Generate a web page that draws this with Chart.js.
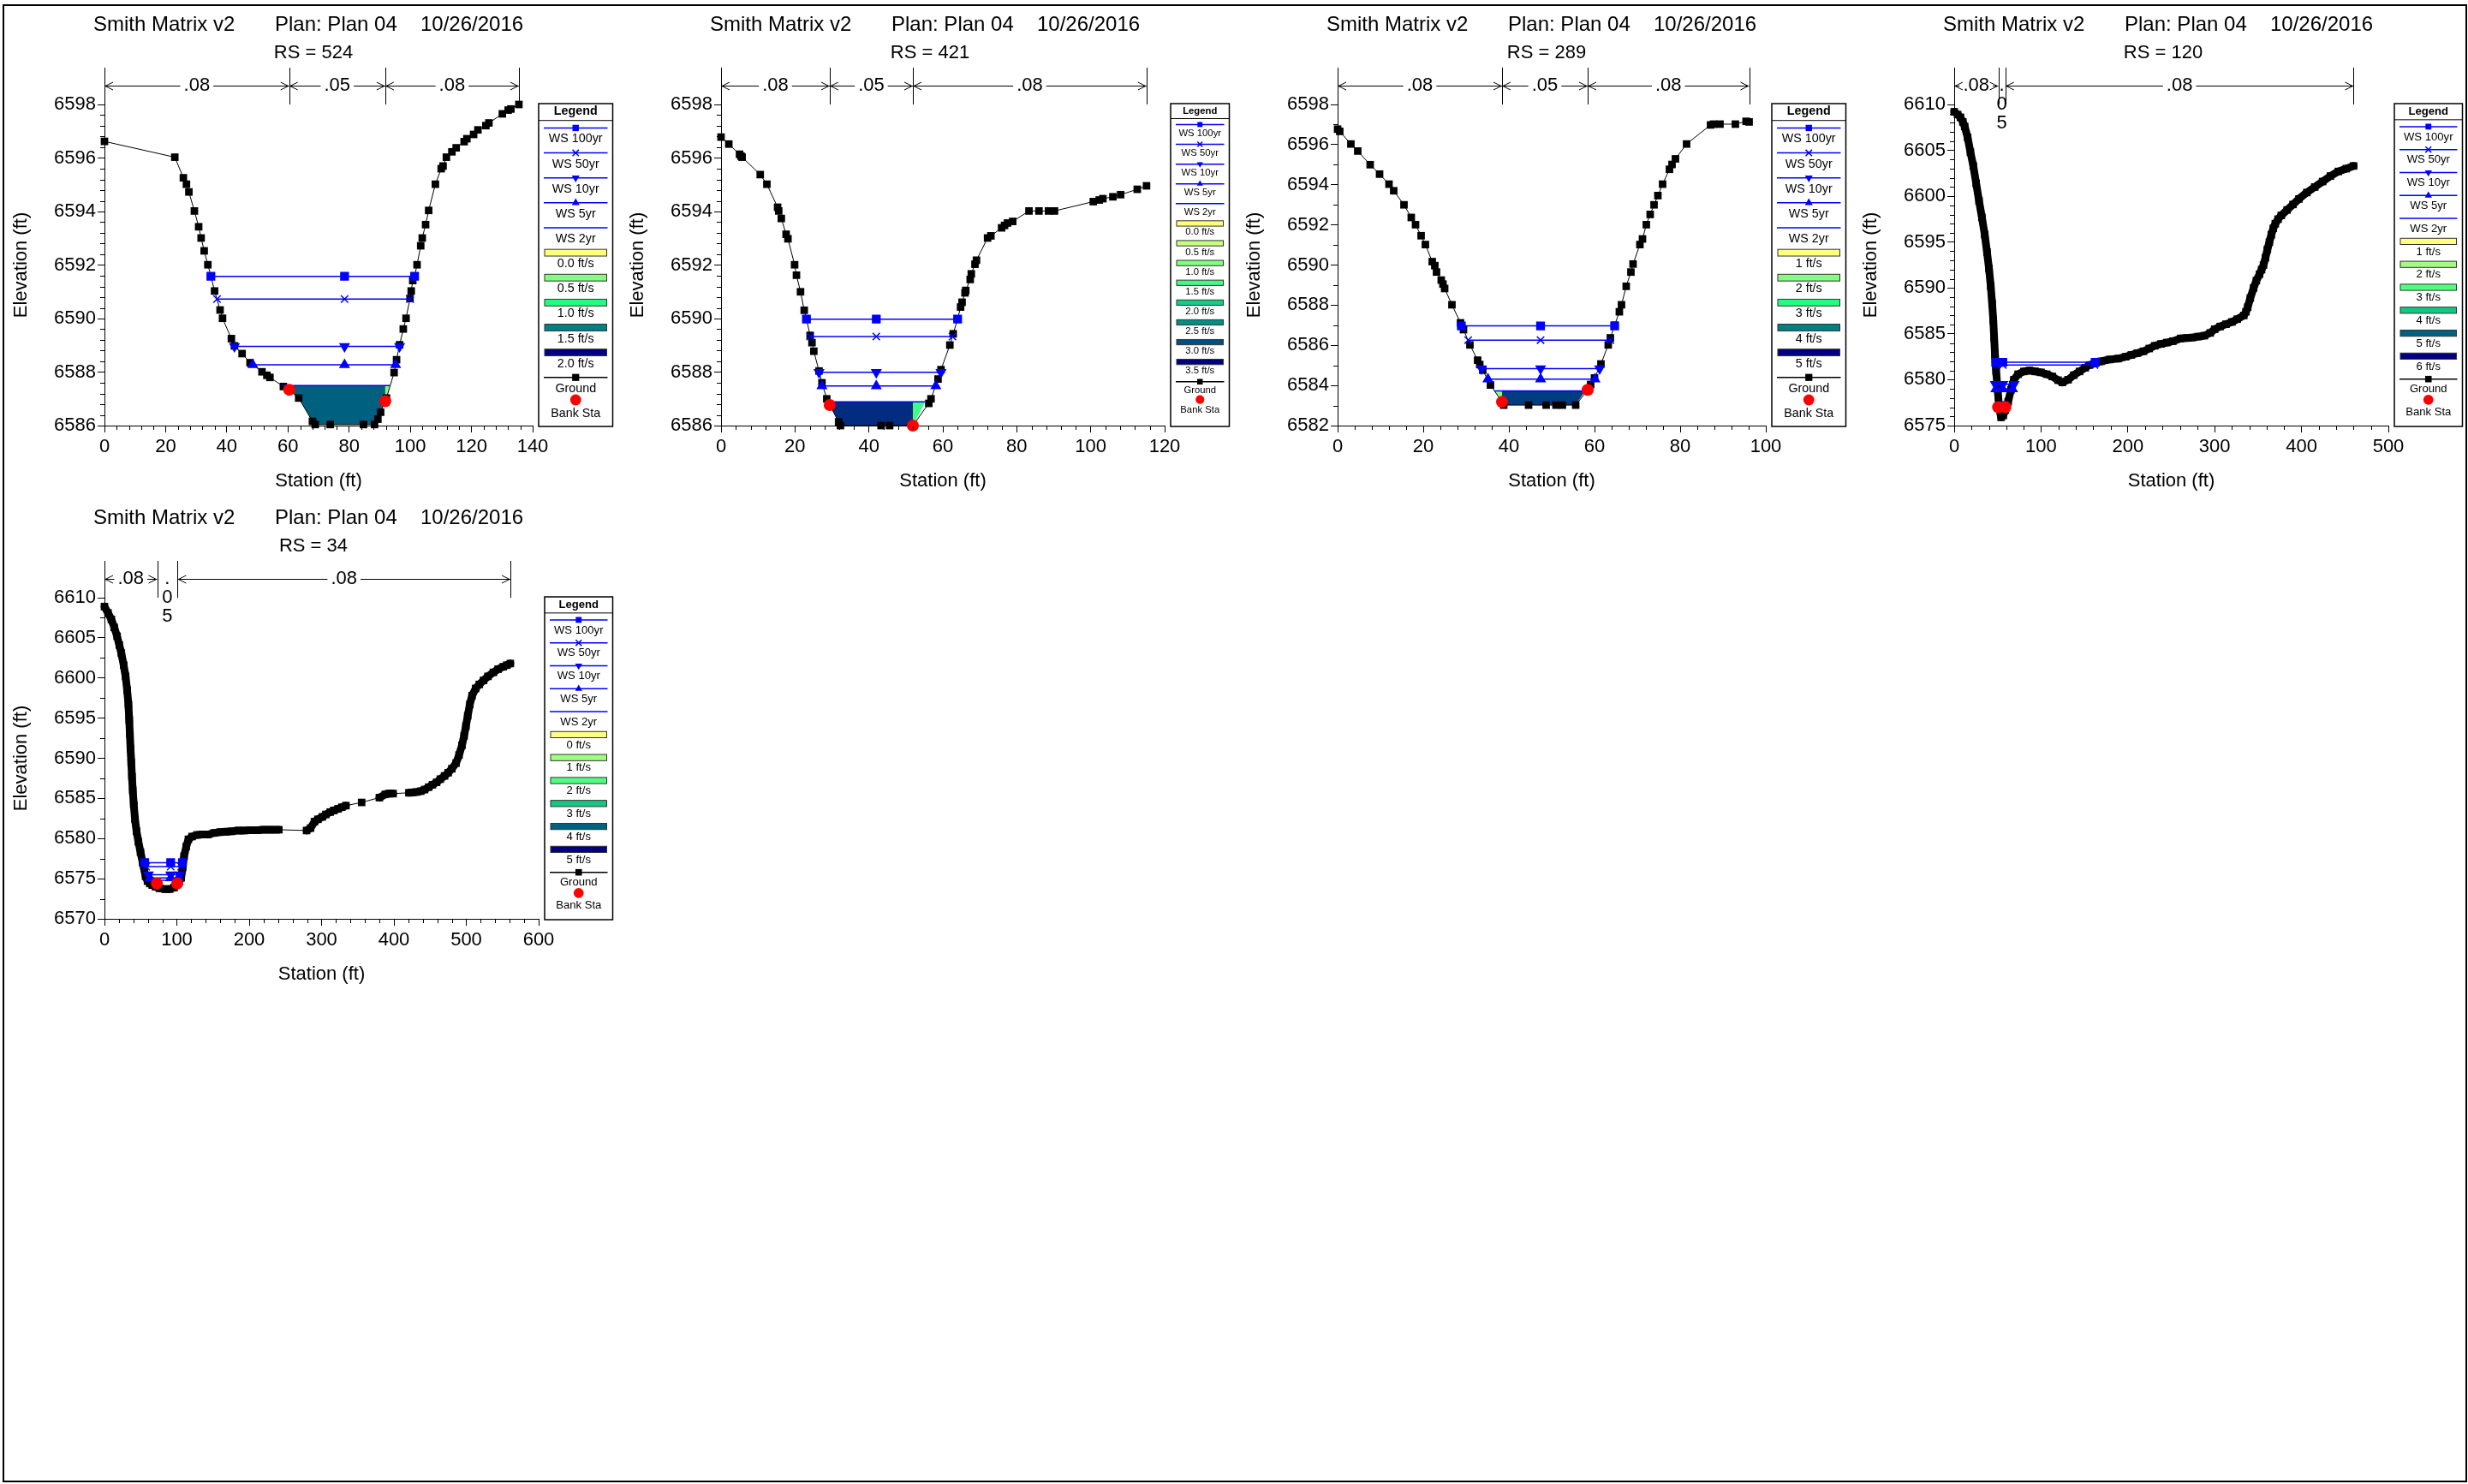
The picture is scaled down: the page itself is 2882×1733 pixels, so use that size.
<!DOCTYPE html>
<html>
<head>
<meta charset="utf-8">
<title>Smith Matrix v2 - Plan 04 cross sections</title>
<script src="https://cdn.jsdelivr.net/npm/chart.js@4"></script>
<style>
  html, body { margin: 0; padding: 0; background: #fff; }
  body { width: 2882px; height: 1733px; position: relative; overflow: hidden; }
  #frame { position: absolute; left: 3px; top: 5px; width: 2874px; height: 1722px; border: 2px solid #000; }
  canvas { position: absolute; }
</style>
</head>
<body>
<div id="frame"></div>
<canvas id="xs524" width="720" height="575" style="left:0px;top:0px"></canvas>
<canvas id="xs421" width="720" height="575" style="left:720px;top:0px"></canvas>
<canvas id="xs289" width="720" height="575" style="left:1440px;top:0px"></canvas>
<canvas id="xs120" width="720" height="575" style="left:2160px;top:0px"></canvas>
<canvas id="xs34" width="720" height="575" style="left:0px;top:576px"></canvas>
<script>
const FONT = '"Liberation Sans", Arial, sans-serif'
Chart.defaults.font.family = FONT
Chart.defaults.color = "#000"

const projectTitle = ["Smith Matrix v2", "Plan: Plan 04", "10/26/2016"]
const wsNames = ["WS 100yr", "WS 50yr", "WS 10yr", "WS 5yr", "WS 2yr"]

// RS = 524
const sta524 = [0, 23.0, 25.8, 26.8, 27.6, 29.4, 30.8, 31.6, 32.6, 33.8, 34.8, 36.0, 37.8, 38.6, 41.5, 42.5, 45.0, 47.6, 51.5, 53.1, 54.1, 58.5, 60.4, 63.5, 68.0, 68.9, 73.8, 84.7, 88.3, 89.4, 90.3, 91.8, 92.2, 94.7, 95.5, 96.5, 97.7, 98.6, 99.9, 100.3, 100.8, 101.4, 102.2, 103.4, 103.9, 105.0, 106.0, 108.2, 110.1, 110.7, 111.8, 113.6, 115.0, 117.6, 118.5, 120.7, 122.1, 124.7, 125.7, 130.1, 132.0, 132.9, 135.5]
const elev524 = [6596.62, 6596.03, 6595.26, 6595.02, 6594.73, 6594.02, 6593.43, 6593.01, 6592.53, 6592.01, 6591.58, 6591.03, 6590.32, 6590.01, 6589.25, 6588.98, 6588.69, 6588.35, 6588.01, 6587.88, 6587.80, 6587.46, 6587.34, 6587.03, 6586.16, 6586.04, 6586.04, 6586.04, 6586.04, 6586.24, 6586.50, 6586.91, 6587.03, 6587.98, 6588.46, 6589.02, 6589.61, 6590.01, 6590.75, 6591.03, 6591.42, 6591.58, 6592.01, 6592.72, 6593.01, 6593.51, 6594.04, 6595.02, 6595.60, 6595.70, 6596.03, 6596.23, 6596.38, 6596.61, 6596.72, 6596.88, 6597.05, 6597.21, 6597.31, 6597.65, 6597.79, 6597.83, 6598.0]
const bankSta524 = [60.4, 91.8]
const bankElev524 = [6587.34, 6586.91]
const wsElev524 = [6591.58, 6590.73, 6588.96, 6588.27, 6587.50]
const wsLeft524 = [34.8, 36.8, 42.5, 48.5, 58.1]
const wsRight524 = [101.4, 99.9, 96.5, 95.2, 93.3]
const wsMid524 = 78.5
const nSta524 = [0, 60.4, 91.8, 135.5]
const nVal524 = [".08", ".05", ".08"]
const velLabels524 = ["0.0 ft/s", "0.5 ft/s", "1.0 ft/s", "1.5 ft/s", "2.0 ft/s"]
const velSpans524 = [[58.1, 91.8], [91.8, 93.3]]
const xTicks524 = [0, 20, 40, 60, 80, 100, 120, 140]
const yTicks524 = [6586, 6588, 6590, 6592, 6594, 6596, 6598]

// RS = 421
const sta421 = [0, 2.1, 5.0, 5.4, 5.7, 10.6, 12.4, 15.3, 15.6, 16.3, 17.6, 18.1, 19.9, 20.4, 21.5, 22.5, 23.1, 24.1, 24.6, 25.1, 26.5, 27.3, 28.6, 29.4, 31.8, 32.3, 43.3, 45.6, 51.9, 56.2, 56.8, 58.7, 59.5, 61.9, 62.8, 64.0, 64.8, 65.2, 66.0, 66.2, 67.4, 67.7, 68.7, 69.1, 72.1, 73.0, 75.9, 76.7, 77.5, 78.9, 83.3, 86.0, 88.6, 90.2, 100.7, 102.3, 103.3, 106.0, 108.1, 112.6, 115.1]
const elev421 = [6596.78, 6596.52, 6596.14, 6596.07, 6596.03, 6595.38, 6595.02, 6594.16, 6594.02, 6593.74, 6593.15, 6592.98, 6592.01, 6591.62, 6591.00, 6590.31, 6589.98, 6589.37, 6589.10, 6588.78, 6588.04, 6587.60, 6587.00, 6586.77, 6586.14, 6586.00, 6586.00, 6586.00, 6586.00, 6586.83, 6587.00, 6587.74, 6588.09, 6589.01, 6589.43, 6589.98, 6590.43, 6590.61, 6590.96, 6591.05, 6591.46, 6591.67, 6592.03, 6592.18, 6593.01, 6593.09, 6593.39, 6593.48, 6593.57, 6593.63, 6594.02, 6594.02, 6594.02, 6594.02, 6594.37, 6594.43, 6594.48, 6594.55, 6594.63, 6594.83, 6594.96]
const bankSta421 = [29.4, 51.9]
const bankElev421 = [6586.77, 6586.0]
const wsElev421 = [6589.98, 6589.33, 6587.99, 6587.48, 6586.89]
const wsLeft421 = [23.1, 24.1, 26.5, 27.3, 29.1]
const wsRight421 = [64.0, 62.6, 59.5, 58.1, 55.2]
const wsMid421 = 42.0
const nSta421 = [0, 29.4, 51.9, 115.1]
const nVal421 = [".08", ".05", ".08"]
const velLabels421 = ["0.0 ft/s", "0.5 ft/s", "1.0 ft/s", "1.5 ft/s", "2.0 ft/s", "2.5 ft/s", "3.0 ft/s", "3.5 ft/s"]
const velSpans421 = [[29.1, 51.9], [51.9, 55.2]]
const xTicks421 = [0, 20, 40, 60, 80, 100, 120]
const yTicks421 = [6586, 6588, 6590, 6592, 6594, 6596, 6598]

// RS = 289
const sta289 = [0, 0.5, 3.1, 4.7, 7.6, 9.8, 12.0, 13.1, 15.5, 17.2, 18.2, 19.5, 20.5, 22.1, 22.7, 23.1, 24.2, 24.6, 25.0, 26.7, 28.7, 29.4, 30.9, 32.7, 33.2, 33.9, 35.7, 38.4, 38.8, 44.6, 48.7, 51.0, 52.5, 55.6, 58.4, 59.1, 60.0, 61.5, 63.2, 63.7, 64.7, 65.8, 66.3, 67.4, 68.5, 69.0, 70.6, 71.2, 72.1, 73.0, 73.9, 74.8, 75.9, 77.5, 78.1, 78.9, 81.5, 87.1, 87.8, 89.3, 92.9, 95.4, 96.1]
const elev289 = [6596.77, 6596.66, 6596.03, 6595.68, 6595.00, 6594.53, 6594.03, 6593.70, 6593.00, 6592.37, 6592.01, 6591.46, 6591.02, 6590.17, 6589.97, 6589.65, 6589.25, 6589.05, 6588.83, 6588.02, 6587.12, 6586.78, 6586.02, 6585.26, 6585.04, 6584.76, 6584.02, 6583.18, 6583.02, 6583.02, 6583.02, 6583.02, 6583.02, 6583.02, 6583.78, 6584.05, 6584.37, 6585.07, 6586.02, 6586.37, 6587.00, 6587.67, 6588.02, 6588.94, 6589.65, 6590.05, 6591.02, 6591.30, 6592.01, 6592.52, 6593.00, 6593.46, 6594.03, 6594.77, 6595.01, 6595.29, 6596.03, 6596.98, 6597.02, 6597.02, 6597.02, 6597.16, 6597.13]
const bankSta289 = [38.4, 58.4]
const bankElev289 = [6583.18, 6583.78]
const wsElev289 = [6586.97, 6586.26, 6584.84, 6584.32, 6583.73]
const wsLeft289 = [28.9, 30.5, 33.6, 35.1, 36.6]
const wsRight289 = [64.7, 63.7, 61.2, 60.1, 57.8]
const wsMid289 = 47.4
const nSta289 = [0, 38.4, 58.4, 96.1]
const nVal289 = [".08", ".05", ".08"]
const velLabels289 = ["1 ft/s", "2 ft/s", "3 ft/s", "4 ft/s", "5 ft/s"]
const velSpans289 = [[36.6, 38.4], [38.4, 57.8]]
const xTicks289 = [0, 20, 40, 60, 80, 100]
const yTicks289 = [6582, 6584, 6586, 6588, 6590, 6592, 6594, 6596, 6598]

// RS = 120
const sta120 = [0, 4, 7.2, 10, 12.1, 15.5, 18.7, 22.0, 25.3, 28.6, 31.9, 35.2, 37.8, 40.1, 42.1, 43.7, 45.0, 46.0, 47.0, 48.3, 50.0, 51.6, 54.0, 56.5, 58.9, 62.1, 65.4, 68.7, 73.6, 80.2, 86.8, 93.4, 99.9, 106.5, 113.1, 119.6, 124.6, 131.2, 137.8, 144.3, 150.9, 155.8, 162.4, 168.9, 178.8, 188.7, 197.4, 204, 211.0, 218, 224.6, 231, 238.2, 245, 251.8, 260.9, 268, 274.5, 281, 288.1, 294.9, 300, 306.3, 313, 319.9, 326, 333.5, 336, 338.0, 341, 344.8, 348, 351.6, 354, 356.2, 358.5, 360.7, 363, 365.2, 367.5, 369.8, 373, 376.6, 383.4, 390.2, 397.0, 406.1, 415.2, 424.3, 433.3, 442.4, 451.5, 460]
const elev120 = [6609.2, 6608.9, 6608.6, 6608.1, 6607.6, 6606.4, 6604.8, 6603.3, 6601.4, 6599.5, 6597.7, 6595.8, 6593.9, 6592.1, 6590.2, 6588.3, 6586.5, 6584.6, 6582.7, 6580.9, 6579.0, 6577.1, 6575.9, 6576.1, 6576.7, 6577.6, 6578.9, 6580.0, 6580.6, 6580.9, 6581.0, 6580.9, 6580.8, 6580.6, 6580.35, 6579.95, 6579.7, 6580.0, 6580.5, 6580.9, 6581.3, 6581.6, 6581.8, 6582.0, 6582.2, 6582.3, 6582.5, 6582.7, 6582.9, 6583.1, 6583.4, 6583.7, 6583.9, 6584.05, 6584.2, 6584.5, 6584.55, 6584.6, 6584.7, 6584.8, 6585.1, 6585.5, 6585.8, 6586.05, 6586.3, 6586.6, 6587.0, 6587.4, 6587.9, 6588.9, 6590.0, 6590.8, 6591.5, 6592.0, 6592.5, 6593.3, 6594.2, 6595.0, 6595.8, 6596.5, 6597.0, 6597.5, 6597.9, 6598.5, 6599.1, 6599.7, 6600.4, 6601.0, 6601.6, 6602.2, 6602.7, 6603.0, 6603.3]
const bankSta120 = [50.6, 59.0]
const bankElev120 = [6577.0, 6577.0]
const wsElev120 = [6581.9, 6581.6, 6579.5, 6579.0, 6577.6]
const wsLeft120 = [47.8, 48.0, 47.4, 48.0, 50.8]
const wsRight120 = [162.4, 161.5, 69.0, 67.2, 62.5]
const wsMid120 = 56.0
const nSta120 = [0, 50.8, 59.0, 460]
const nVal120 = [".08", ".05", ".08"]
const velLabels120 = ["1 ft/s", "2 ft/s", "3 ft/s", "4 ft/s", "5 ft/s", "6 ft/s"]
const velSpans120 = []
const xTicks120 = [0, 100, 200, 300, 400, 500]
const yTicks120 = [6575, 6580, 6585, 6590, 6595, 6600, 6605, 6610]

// RS = 34
const sta34 = [0, 4.9, 9.5, 13.5, 17.4, 20.5, 23.3, 26.5, 29.2, 31.3, 33.1, 34.2, 35.1, 36.0, 37.0, 38.0, 39.1, 40.5, 42.2, 44.3, 46.9, 49.8, 52.8, 56.8, 59.5, 62.7, 66.0, 70.6, 76.0, 84.0, 90.0, 96.2, 100.5, 103.0, 106.0, 108.0, 110.0, 113.0, 116.0, 121.0, 127.8, 135.0, 143.0, 151.5, 160.0, 168.0, 176.0, 185.0, 193.0, 202.0, 211.0, 220.0, 230.0, 241.0, 279.3, 284.8, 290.2, 295.0, 301.1, 306.0, 312.0, 317.0, 322.8, 328.0, 333.7, 355.4, 379.9, 388.0, 393.0, 398.9, 420.7, 426.0, 431.5, 437.0, 442.4, 448.0, 453.3, 459.0, 464.1, 470.0, 475.0, 480.0, 485.9, 490.0, 494.0, 497.0, 499.5, 502.0, 504.9, 508.0, 513.0, 518.0, 523.9, 530.0, 537.5, 544.0, 551.1, 556.0, 560.9]
const elev34 = [6608.9, 6608.1, 6607.3, 6606.3, 6605.2, 6604.1, 6603.1, 6601.6, 6600.2, 6598.5, 6596.7, 6594.8, 6593.0, 6591.2, 6589.5, 6587.7, 6586.0, 6584.2, 6582.4, 6580.9, 6579.6, 6578.3, 6577.0, 6575.3, 6574.7, 6574.4, 6574.2, 6574.0, 6573.8, 6573.7, 6573.7, 6573.9, 6574.4, 6574.6, 6575.1, 6576.4, 6577.8, 6579.0, 6579.9, 6580.25, 6580.45, 6580.5, 6580.5, 6580.7, 6580.8, 6580.85, 6580.9, 6581.0, 6581.0, 6581.05, 6581.05, 6581.1, 6581.1, 6581.1, 6581.0, 6581.3, 6582.1, 6582.4, 6582.7, 6583.0, 6583.3, 6583.5, 6583.7, 6583.9, 6584.1, 6584.5, 6585.1, 6585.5, 6585.6, 6585.6, 6585.7, 6585.75, 6585.8, 6585.9, 6586.1, 6586.4, 6586.7, 6587.0, 6587.4, 6587.8, 6588.2, 6588.7, 6589.4, 6590.4, 6591.6, 6592.8, 6594.0, 6595.3, 6596.7, 6597.8, 6598.7, 6599.2, 6599.7, 6600.2, 6600.7, 6601.1, 6601.4, 6601.6, 6601.8]
const bankSta34 = [72.5, 100.5]
const bankElev34 = [6574.4, 6574.4]
const wsElev34 = [6577.0, 6576.5, 6575.5, 6575.1, 6574.8]
const wsLeft34 = [55.6, 57.6, 60.7, 62.7, 64.7]
const wsRight34 = [107.7, 106.0, 104.0, 102.0, 100.0]
const wsMid34 = 91.5
const nSta34 = [0, 72.8, 101, 561]
const nVal34 = [".08", ".05", ".08"]
const velLabels34 = ["0 ft/s", "1 ft/s", "2 ft/s", "3 ft/s", "4 ft/s", "5 ft/s"]
const velSpans34 = []
const xTicks34 = [0, 100, 200, 300, 400, 500, 600]
const yTicks34 = [6570, 6575, 6580, 6585, 6590, 6595, 6600, 6605, 6610]

// styles
const BLUE = "#0000ff"
const wsMarker = [
    { style: "rect", r: 6.2, rot: 0 },
    { style: "crossRot", r: 6, rot: 0 },
    { style: "triangle", r: 6, rot: 180 },
    { style: "triangle", r: 6, rot: 0 },
    { style: false, r: 0, rot: 0 },
]
const velColors5 = ["#ffff80", "#80ff80", "#20ff80", "#008080", "#000080"]
const velColors6 = ["#ffff80", "#a0ff80", "#50ff80", "#10c880", "#006080", "#000080"]
const velColors8 = ["#ffff80", "#c8ff80", "#80ff80", "#40ff80", "#10d080", "#008f80", "#00507f", "#000080"]

function toPoints(xs, ys) {
    return xs.map((x, i) => ({ x: x, y: ys[i] }))
}

function fillPolygon(sta, elev, ws, a, b) {
    const pts = [{ x: a, y: ws }, { x: b, y: ws }]
    for (let i = sta.length - 1; i >= 0; i--) {
        if (sta[i] >= a && sta[i] <= b) pts.push({ x: sta[i], y: elev[i] })
    }
    return pts
}

function drawMark(ctx, style, rot, x, y, r) {
    ctx.beginPath()
    if (style === "rect") {
        const h = r * Math.SQRT1_2
        ctx.rect(x - h, y - h, 2 * h, 2 * h)
        ctx.fill()
    } else if (style === "crossRot") {
        const h = r * Math.SQRT1_2
        ctx.moveTo(x - h, y - h); ctx.lineTo(x + h, y + h)
        ctx.moveTo(x - h, y + h); ctx.lineTo(x + h, y - h)
        ctx.stroke()
    } else if (style === "triangle") {
        const d = rot ? -1 : 1
        ctx.moveTo(x, y - d * r)
        ctx.lineTo(x - r * 0.866, y + d * r / 2)
        ctx.lineTo(x + r * 0.866, y + d * r / 2)
        ctx.closePath()
        ctx.fill()
    } else if (style === "circle") {
        ctx.arc(x, y, r, 0, Math.PI * 2)
        ctx.fill()
    }
}

function makeDecor(s) {
    return {
        id: "decor" + s.rs,
        afterDraw(chart) {
            const ctx = chart.ctx
            const xs = chart.scales.x
            const ys = chart.scales.y
            const a = chart.chartArea
            ctx.save()
            ctx.fillStyle = "#000"
            ctx.strokeStyle = "#000"
            ctx.lineWidth = 1
            ctx.textBaseline = "middle"

            // header
            ctx.font = "24px " + FONT
            ctx.textAlign = "left"
            ctx.fillText(projectTitle[0], 109, 29)
            ctx.fillText(projectTitle[1], 321, 29)
            ctx.fillText(projectTitle[2], 491, 29)
            ctx.font = "22px " + FONT
            ctx.textAlign = "center"
            ctx.fillText("RS = " + s.rs, 366, 62)

            // minor ticks
            ctx.beginPath()
            const xa = s.xTicks[0], xb = s.xTicks[s.xTicks.length - 1]
            for (let i = 0; xa + i * s.xMinor <= xb + 1e-9; i++) {
                const v = xa + i * s.xMinor
                if (s.xTicks.some(t => Math.abs(t - v) < 1e-6)) continue
                const px = Math.round(xs.getPixelForValue(v)) + 0.5
                ctx.moveTo(px, a.bottom)
                ctx.lineTo(px, a.bottom + 5)
            }
            const ya = s.yTicks[0], yb = s.yTicks[s.yTicks.length - 1]
            for (let i = 0; ya + i * s.yMinor <= yb + 1e-9; i++) {
                const v = ya + i * s.yMinor
                if (s.yTicks.some(t => Math.abs(t - v) < 1e-6)) continue
                const py = Math.round(ys.getPixelForValue(v)) + 0.5
                ctx.moveTo(a.left, py)
                ctx.lineTo(a.left - 5, py)
            }
            ctx.stroke()

            // Manning's n
            ctx.beginPath()
            s.nSta.forEach(v => {
                const px = Math.round(xs.getPixelForValue(v)) + 0.5
                ctx.moveTo(px, 79)
                ctx.lineTo(px, a.top)
            })
            ctx.stroke()
            ctx.font = "22px " + FONT
            for (let i = 0; i < s.nVal.length; i++) {
                const l = xs.getPixelForValue(s.nSta[i])
                const r = xs.getPixelForValue(s.nSta[i + 1])
                const mid = (l + r) / 2
                const tw = ctx.measureText(s.nVal[i]).width
                if (r - l >= tw + 6) {
                    ctx.beginPath()
                    const g1 = mid - tw / 2 - 4
                    const g2 = mid + tw / 2 + 4
                    if (g1 > l) { ctx.moveTo(l, 100.5); ctx.lineTo(g1, 100.5) }
                    if (g2 < r) { ctx.moveTo(g2, 100.5); ctx.lineTo(r, 100.5) }
                    ctx.moveTo(l + 10, 96); ctx.lineTo(l + 1, 100.5); ctx.lineTo(l + 10, 105)
                    ctx.moveTo(r - 10, 96); ctx.lineTo(r - 1, 100.5); ctx.lineTo(r - 10, 105)
                    ctx.stroke()
                    ctx.fillText(s.nVal[i], mid, 100)
                } else {
                    s.nVal[i].split("").forEach((ch, k) => ctx.fillText(ch, mid, 100 + k * 22))
                }
            }

            // legend box
            const L = a.right + 7, R = 715.5, T = 121, B = 498
            ctx.fillStyle = "#fff"
            ctx.fillRect(L, T, R - L, B - T)
            ctx.lineWidth = 1.5
            ctx.strokeRect(L, T, R - L, B - T)
            const nItems = 5 + s.velLabels.length + 2
            const sp = 335 / (nItems - 0.5)
            const f = sp * 0.49
            const cx = (L + R) / 2
            ctx.fillStyle = "#000"
            ctx.font = "bold " + f.toFixed(1) + "px " + FONT
            ctx.fillText("Legend", cx, T + 9)
            const sep = T + 9 + 0.75 * f
            ctx.lineWidth = 1
            ctx.beginPath(); ctx.moveTo(L, sep); ctx.lineTo(R, sep); ctx.stroke()
            ctx.font = f.toFixed(1) + "px " + FONT
            let y = sep + 0.3 * sp
            for (let k = 0; k < 5; k++) {
                ctx.strokeStyle = BLUE
                ctx.fillStyle = BLUE
                ctx.lineWidth = 1.5
                ctx.beginPath(); ctx.moveTo(L + 6, y); ctx.lineTo(R - 6, y); ctx.stroke()
                drawMark(ctx, wsMarker[k].style, wsMarker[k].rot, cx, y, sp * 0.18)
                ctx.fillStyle = "#000"
                ctx.fillText(wsNames[k], cx, y + 0.45 * sp)
                y += sp
            }
            for (let k = 0; k < s.velLabels.length; k++) {
                const h = 0.27 * sp
                ctx.fillStyle = s.velColors[k]
                ctx.fillRect(L + 7, y - h / 2, R - L - 14, h)
                ctx.strokeStyle = "#333"
                ctx.lineWidth = 1
                ctx.strokeRect(L + 7, y - h / 2, R - L - 14, h)
                ctx.fillStyle = "#000"
                ctx.fillText(s.velLabels[k], cx, y + 0.45 * sp)
                y += sp
            }
            ctx.strokeStyle = "#000"
            ctx.lineWidth = 1.5
            ctx.beginPath(); ctx.moveTo(L + 6, y); ctx.lineTo(R - 6, y); ctx.stroke()
            ctx.fillStyle = "#000"
            drawMark(ctx, "rect", 0, cx, y, sp * 0.2)
            ctx.fillText("Ground", cx, y + 0.45 * sp)
            y += sp
            ctx.fillStyle = "#ff0000"
            drawMark(ctx, "circle", 0, cx, y - 0.1 * sp, sp * 0.22)
            ctx.fillStyle = "#000"
            ctx.fillText("Bank Sta", cx, y + 0.45 * sp)
            ctx.restore()
        },
    }
}

function makeSection(id, s) {
    const ground = toPoints(s.sta, s.elev)
    const datasets = []

    s.velSpans.forEach((span, i) => {
        datasets.push({
            label: "vel" + i,
            data: fillPolygon(s.sta, s.elev, s.wsElev[4], span[0], span[1]),
            fill: "shape",
            backgroundColor: s.fillColors[i],
            borderColor: "transparent",
            borderWidth: 0,
            pointRadius: 0,
            order: 10,
            clip: false,
        })
    })

    for (let k = 0; k < 5; k++) {
        const pts = [{ x: s.wsLeft[k], y: s.wsElev[k] }]
        if (k < 4) pts.push({ x: s.wsMid, y: s.wsElev[k] })
        pts.push({ x: s.wsRight[k], y: s.wsElev[k] })
        datasets.push({
            label: wsNames[k],
            data: pts,
            borderColor: BLUE,
            backgroundColor: BLUE,
            borderWidth: 1.5,
            pointStyle: wsMarker[k].style,
            pointRadius: wsMarker[k].r,
            pointRotation: wsMarker[k].rot,
            pointBackgroundColor: BLUE,
            pointBorderColor: BLUE,
            pointBorderWidth: 1.5,
            fill: false,
            order: 3,
            clip: false,
        })
    }

    const groundSet = {
        label: "Ground",
        data: ground,
        borderColor: "#000",
        backgroundColor: "#000",
        borderWidth: 1,
        borderJoinStyle: "round",
        borderCapStyle: "round",
        pointStyle: "rect",
        pointRadius: 6.2,
        pointBackgroundColor: "#000",
        pointBorderWidth: 0,
        fill: false,
        order: 4,
        clip: false,
    }
    if (s.dense) {
        groundSet.segment = {
            borderWidth: c => (Math.abs(ground[c.p1DataIndex].x - ground[c.p0DataIndex].x) < 15 ? 9 : 1),
        }
    }
    datasets.push(groundSet)

    datasets.push({
        label: "Bank Sta",
        data: toPoints(s.bankSta, s.bankElev),
        showLine: false,
        pointStyle: "circle",
        pointRadius: 7,
        pointBackgroundColor: "#ff0000",
        pointBorderWidth: 0,
        order: 1,
        clip: false,
    })

    const axisTitle = { size: 22 }
    const config = {
        type: "line",
        data: { datasets: datasets },
        options: {
            responsive: false,
            animation: false,
            layout: { padding: { left: 0, top: 122, right: s.padRight, bottom: 0 } },
            plugins: { legend: { display: false }, tooltip: { enabled: false } },
            scales: {
                x: {
                    type: "linear",
                    min: s.xTicks[0],
                    max: s.xTicks[s.xTicks.length - 1],
                    afterBuildTicks: sc => { sc.ticks = s.xTicks.map(v => ({ value: v })) },
                    afterFit: sc => { sc.height = 78; sc.paddingLeft = 0; sc.paddingRight = 0 },
                    ticks: { autoSkip: false, maxRotation: 0, padding: 4, font: { size: 22 }, callback: v => String(v) },
                    grid: { drawOnChartArea: false, drawTicks: true, tickLength: 8, tickColor: "#000" },
                    border: { display: true, color: "#000", width: 1 },
                    title: { display: true, text: "Station (ft)", font: axisTitle, padding: { top: 0, bottom: 0 } },
                },
                y: {
                    type: "linear",
                    min: s.yTicks[0],
                    max: s.yTicks[s.yTicks.length - 1],
                    afterBuildTicks: sc => { sc.ticks = s.yTicks.map(v => ({ value: v })) },
                    afterFit: sc => { sc.width = 122; sc.paddingTop = 0; sc.paddingBottom = 0 },
                    ticks: { autoSkip: false, padding: 2, font: { size: 22 }, callback: v => String(v) },
                    grid: { drawOnChartArea: false, drawTicks: true, tickLength: 8, tickColor: "#000" },
                    border: { display: true, color: "#000", width: 1 },
                    title: { display: true, text: "Elevation (ft)", font: axisTitle, padding: { top: 12, bottom: 0 } },
                },
            },
        },
        plugins: [makeDecor(s)],
    }
    return new Chart(document.getElementById(id).getContext("2d"), config)
}

var chart524 = makeSection("xs524", {
    rs: "524", sta: sta524, elev: elev524, bankSta: bankSta524, bankElev: bankElev524,
    wsElev: wsElev524, wsLeft: wsLeft524, wsRight: wsRight524, wsMid: wsMid524,
    nSta: nSta524, nVal: nVal524, velLabels: velLabels524, velColors: velColors5,
    velSpans: velSpans524, fillColors: ["#00607f", "#8cf08c"],
    xTicks: xTicks524, yTicks: yTicks524, xMinor: 4, yMinor: 0.4, padRight: 98, dense: false,
})

var chart421 = makeSection("xs421", {
    rs: "421", sta: sta421, elev: elev421, bankSta: bankSta421, bankElev: bankElev421,
    wsElev: wsElev421, wsLeft: wsLeft421, wsRight: wsRight421, wsMid: wsMid421,
    nSta: nSta421, nVal: nVal421, velLabels: velLabels421, velColors: velColors8,
    velSpans: velSpans421, fillColors: ["#022c80", "#3cff84"],
    xTicks: xTicks421, yTicks: yTicks421, xMinor: 4, yMinor: 0.4, padRight: 80, dense: false,
})

var chart289 = makeSection("xs289", {
    rs: "289", sta: sta289, elev: elev289, bankSta: bankSta289, bankElev: bankElev289,
    wsElev: wsElev289, wsLeft: wsLeft289, wsRight: wsRight289, wsMid: wsMid289,
    nSta: nSta289, nVal: nVal289, velLabels: velLabels289, velColors: velColors5,
    velSpans: velSpans289, fillColors: ["#90ff80", "#003c80"],
    xTicks: xTicks289, yTicks: yTicks289, xMinor: 4, yMinor: 1, padRight: 98, dense: false,
})

var chart120 = makeSection("xs120", {
    rs: "120", sta: sta120, elev: elev120, bankSta: bankSta120, bankElev: bankElev120,
    wsElev: wsElev120, wsLeft: wsLeft120, wsRight: wsRight120, wsMid: wsMid120,
    nSta: nSta120, nVal: nVal120, velLabels: velLabels120, velColors: velColors6,
    velSpans: velSpans120, fillColors: [],
    xTicks: xTicks120, yTicks: yTicks120, xMinor: 20, yMinor: 1, padRight: 91, dense: true,
})

var chart34 = makeSection("xs34", {
    rs: "34", sta: sta34, elev: elev34, bankSta: bankSta34, bankElev: bankElev34,
    wsElev: wsElev34, wsLeft: wsLeft34, wsRight: wsRight34, wsMid: wsMid34,
    nSta: nSta34, nVal: nVal34, velLabels: velLabels34, velColors: velColors6,
    velSpans: velSpans34, fillColors: [],
    xTicks: xTicks34, yTicks: yTicks34, xMinor: 20, yMinor: 2.5, padRight: 91, dense: true,
})
</script>
</body>
</html>
